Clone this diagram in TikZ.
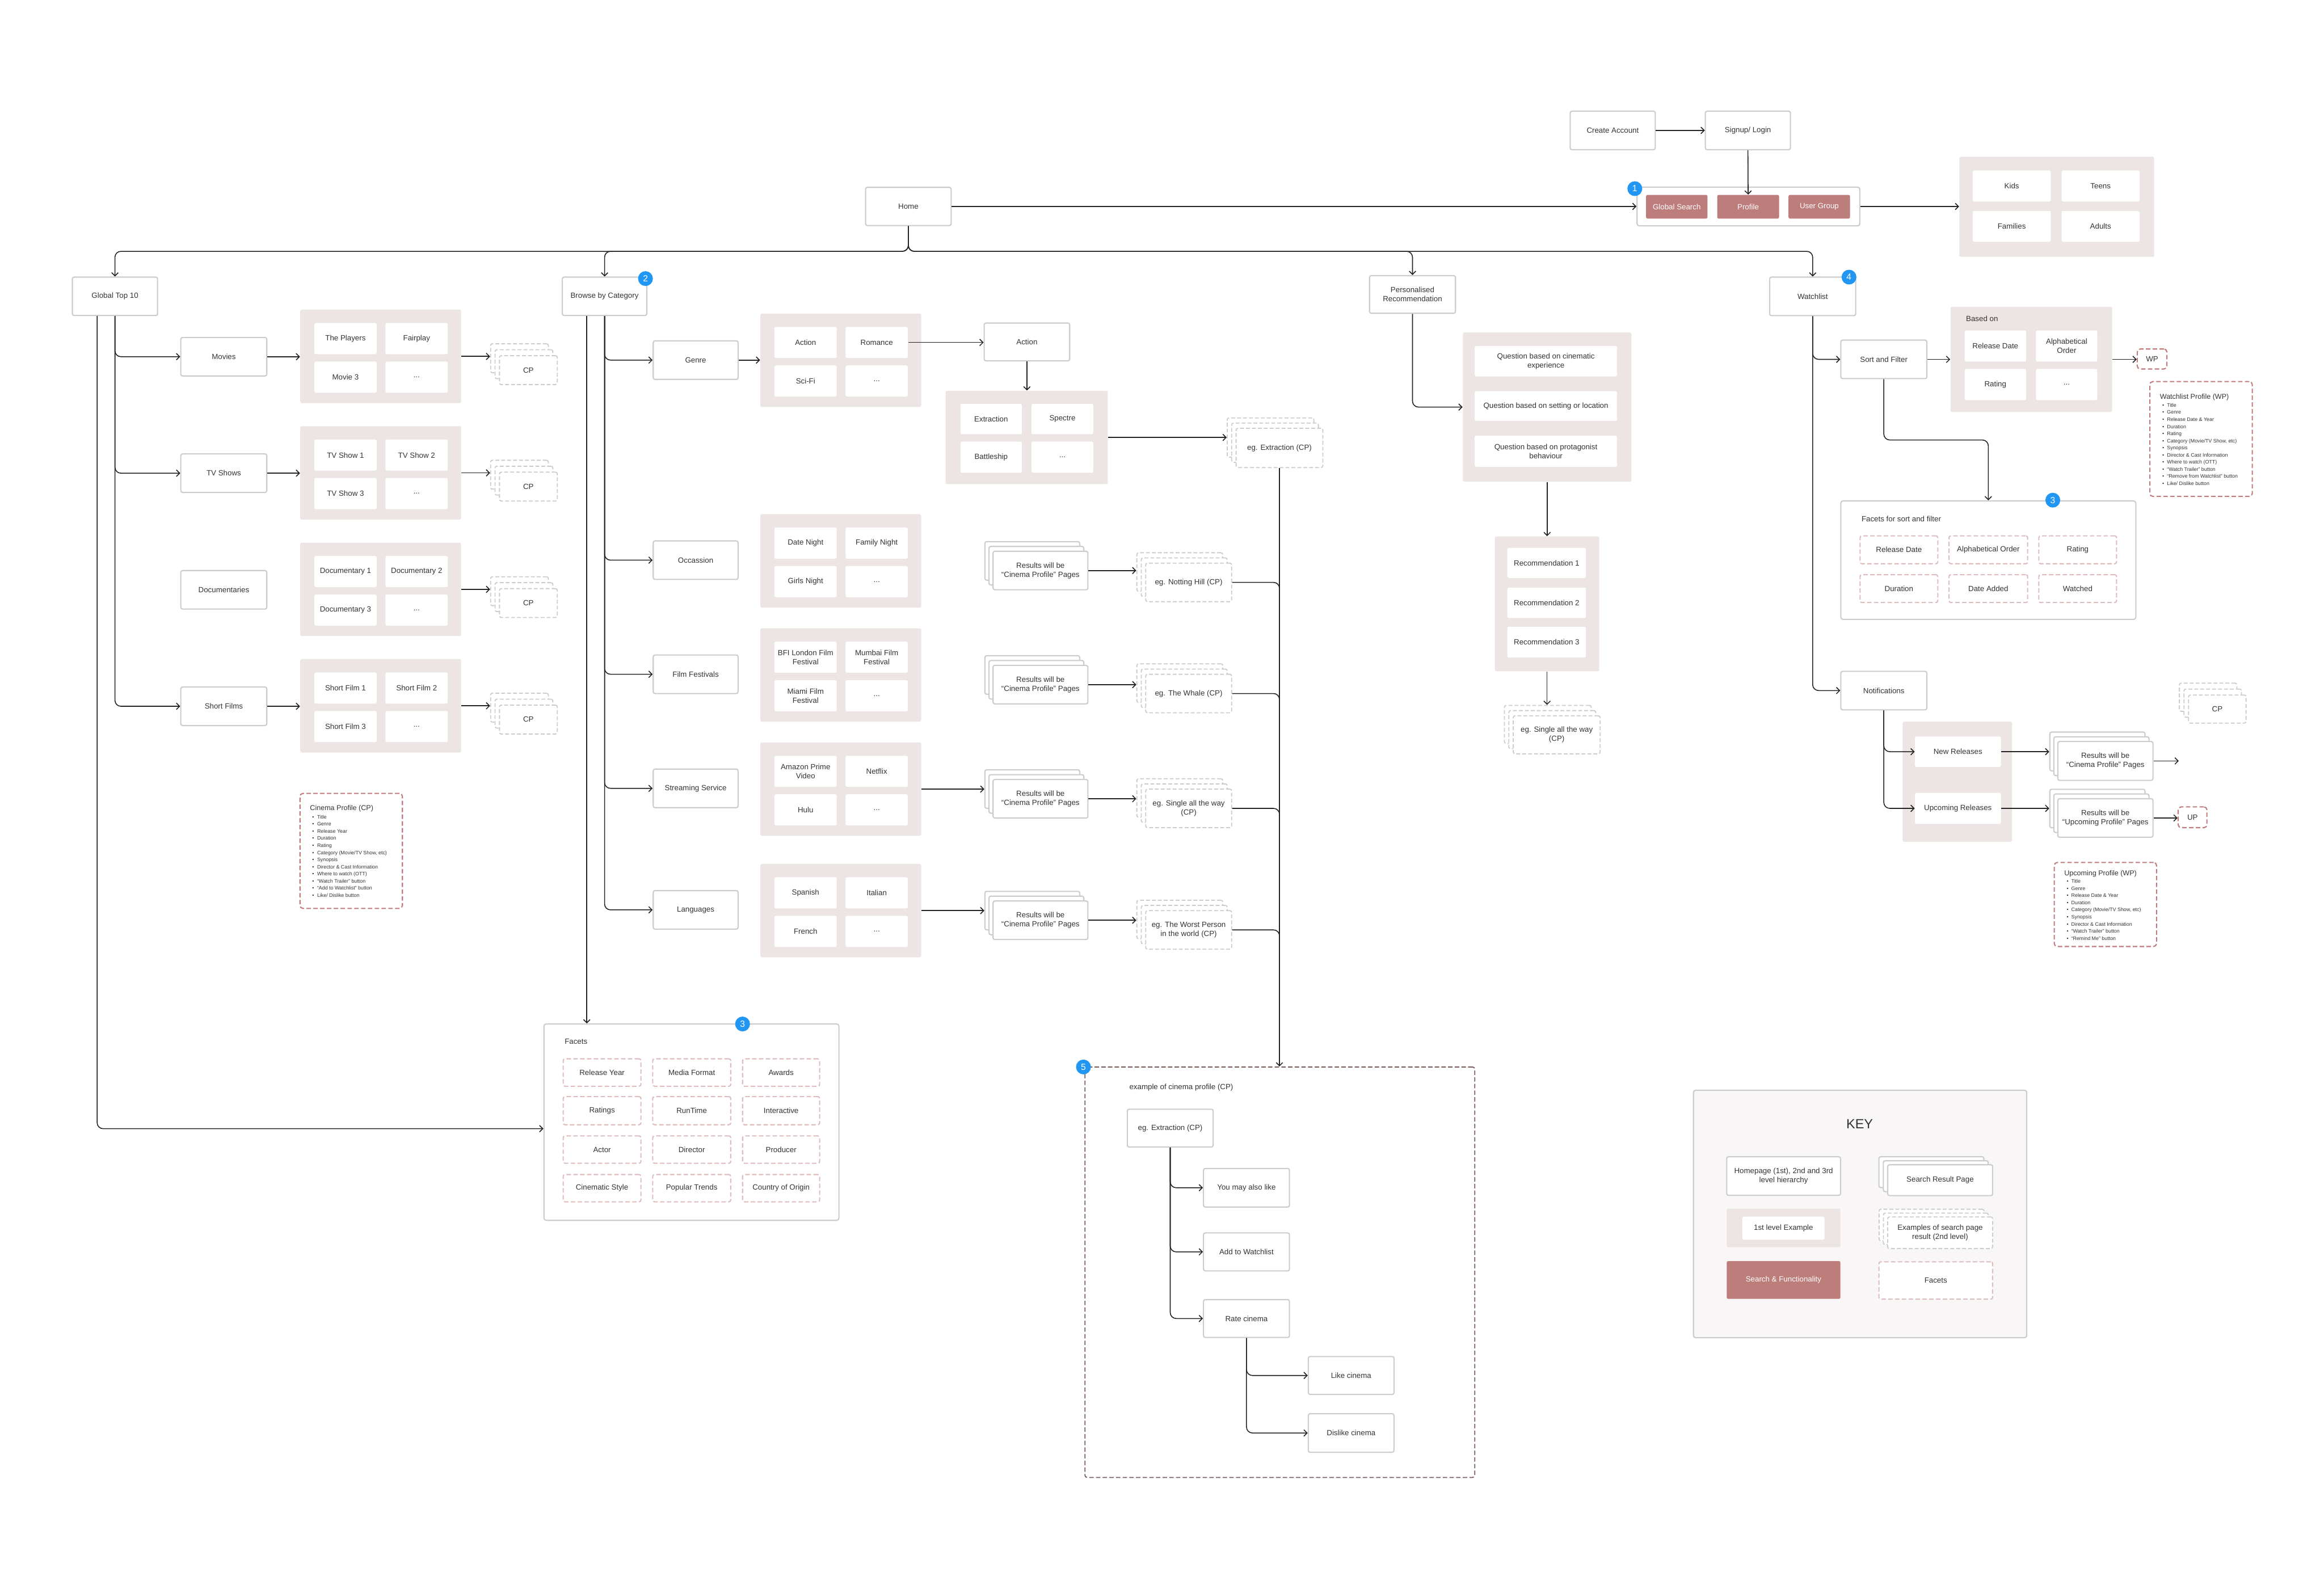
\documentclass[tikz,border=0pt]{standalone}
\usepackage{fontspec}
\setmainfont{Liberation Sans}
\usetikzlibrary{arrows.meta,calc}
\definecolor{boxline}{HTML}{CCCCCC}
\definecolor{pinkbg}{HTML}{EDE4E4}
\definecolor{rosefill}{HTML}{BD7D7B}
\definecolor{roseline}{HTML}{C07C7C}
\definecolor{facetline}{HTML}{DDBDBD}
\definecolor{txt}{HTML}{333333}
\definecolor{badgeblue}{HTML}{2196F3}
\definecolor{exline}{HTML}{7A5E5E}
\definecolor{keybg}{HTML}{F8F6F6}
\definecolor{connc}{HTML}{222222}

\newcommand\bx[7]{\node[#1, minimum width={((#5)-(#3))*1pt}, minimum height={((#6)-(#4))*1pt}] (#2) at ({((#3)+(#5))/2},{((#4)+(#6))/2}) {#7};}
\newcommand\stk[9]{%
  \node[#1, minimum width={((#5)-(#3))*1pt}, minimum height={((#6)-(#4))*1pt}] (#2-b) at ({((#3)+(#5))/2-2*(#7)},{((#4)+(#6))/2-2*(#8)}) {};
  \node[#1, minimum width={((#5)-(#3))*1pt}, minimum height={((#6)-(#4))*1pt}] (#2-m) at ({((#3)+(#5))/2-(#7)},{((#4)+(#6))/2-(#8)}) {};
  \node[#1, minimum width={((#5)-(#3))*1pt}, minimum height={((#6)-(#4))*1pt}] (#2) at ({((#3)+(#5))/2},{((#4)+(#6))/2}) {#9};}
\newcommand\gfour[7]{%
  \bx{bgp}{#1}{#2}{#3}{#2+108.5}{#3+63}{}
  \bx{cell}{#1-1}{#2+9.5}{#3+9}{#2+51.5}{#3+30}{#4}
  \bx{cell}{#1-2}{#2+57.5}{#3+9}{#2+99.5}{#3+30}{#5}
  \bx{cell}{#1-3}{#2+9.5}{#3+35}{#2+51.5}{#3+56}{#6}
  \bx{cell}{#1-4}{#2+57.5}{#3+35}{#2+99.5}{#3+56}{#7}}
\newcommand\plist[5]{%
  \foreach \t [count=\i from 0] in {#5} {%
    \node[plitem, anchor=base] (#4-b\i) at (#1,{#3+\i*4.81}) {\textbullet};
    \node[plitem, anchor=base west] (#4-\i) at (#2,{#3+\i*4.81}) {\t};
  }}

\begin{document}
\begin{tikzpicture}[x=1pt,y=-1pt,
  every node/.style={font=\fontsize{5.1}{6.2}\selectfont, text=txt, inner sep=0.8pt},
  pg/.style={draw=boxline, line width=0.8pt, fill=white, rounded corners=1.2pt, align=center},
  plainbox/.style={draw=boxline, line width=0.8pt, fill=white, rounded corners=1.5pt},
  keybox/.style={draw=boxline, line width=0.8pt, fill=keybg, rounded corners=1.5pt},
  cell/.style={fill=white, rounded corners=1pt, align=center},
  bgp/.style={fill=pinkbg, rounded corners=1pt},
  func/.style={fill=rosefill, rounded corners=1pt, text=white, align=center},
  gstack/.style={draw=boxline, dash pattern=on 2.6pt off 1.4pt, line width=0.7pt, fill=white, rounded corners=1.2pt, align=center},
  facet/.style={draw=facetline, dash pattern=on 3pt off 1.6pt, line width=0.8pt, fill=white, rounded corners=1.2pt, align=center},
  rosebox/.style={draw=roseline, dash pattern=on 3pt off 1.6pt, line width=0.8pt, fill=white, rounded corners=2pt, align=center},
  exbox/.style={draw=exline, dash pattern=on 3pt off 1.5pt, line width=0.7pt, rounded corners=1.5pt},
  badge/.style={circle, fill=badgeblue, text=white, minimum size=10pt, inner sep=0pt, font=\fontsize{6}{6}\selectfont},
  plitem/.style={font=\fontsize{3.4}{4}\selectfont, inner sep=0pt},
  ptitle/.style={font=\fontsize{4.8}{5.5}\selectfont, inner sep=0pt},
  arr/.style={draw=connc, line width=0.6pt, rounded corners=4pt, -{Straight Barb[length=2.2pt,width=4.4pt]}},
  ln/.style={draw=connc, line width=0.6pt, rounded corners=4pt}
]
\useasboundingbox (0,0) rectangle (1568,1066.6);
\fill[white] (0,0) rectangle (1568,1066.6);

% ---------- top ----------
\bx{pg}{ca}{1059.4}{75}{1116.8}{101}{Create Account}
\bx{pg}{sl}{1150.6}{75}{1208}{101}{Signup/ Login}
\bx{pg}{home}{584}{126.4}{641.7}{152.2}{Home}
\bx{plainbox}{grp}{1104.5}{126.3}{1254.8}{152.4}{}
\bx{func}{gs}{1110.6}{131.5}{1152}{147.5}{Global Search}
\bx{func}{prof}{1158.6}{131.5}{1200.3}{147.5}{Profile}
\bx{func}{ug}{1206.7}{131.5}{1248.2}{147.5}{User Group}
\node[badge] (b1) at (1103,127.3) {1};
\bx{bgp}{ugrid}{1322}{105.8}{1453.4}{173.3}{}
\bx{cell}{kids}{1331}{115}{1383.6}{136}{Kids}
\bx{cell}{teens}{1391}{115}{1443.5}{136}{Teens}
\bx{cell}{fam}{1331}{142.4}{1383.6}{163.2}{Families}
\bx{cell}{adults}{1391}{142.4}{1443.5}{163.2}{Adults}

\draw[arr] (ca) -- (sl);
\draw[arr] (sl.south) -- (prof.north);
\draw[arr] (home.east) -- (home.east -| grp.west);
\draw[arr] (grp.east) -- (grp.east -| ugrid.west);

% ---------- level 2 ----------
\bx{pg}{gt}{48.8}{187}{106.3}{212.9}{Global Top 10}
\bx{pg}{bbc}{379.4}{187}{436.4}{212.9}{Browse by Category}
\bx{pg}{pr}{924}{186}{982}{211.4}{Personalised\\Recommendation}
\bx{pg}{wl}{1194}{187}{1252}{213}{Watchlist}
\node[badge] (b2) at (435.5,188) {2};
\node[badge] (b4) at (1247.5,187) {4};
\draw[arr] (home.south) -- ++(0,17) -| (gt.north);
\draw[arr] (home.south) -- ++(0,17) -| (bbc.north);
\draw[arr] (home.south) -- ++(0,17) -| (pr.north);
\draw[arr] (home.south) -- ++(0,17) -| (wl.north);

% ---------- Global Top 10 column ----------
\bx{pg}{mov}{122}{227.7}{180}{253.7}{Movies}
\bx{pg}{tv}{122}{306.3}{180}{332.3}{TV Shows}
\bx{pg}{doc}{122}{385}{180}{411}{Documentaries}
\bx{pg}{shf}{122}{463.6}{180}{489.6}{Short Films}
\gfour{gm}{202.6}{209}{The Players}{Fairplay}{Movie 3}{...}
\gfour{gtv}{202.6}{287.6}{TV Show 1}{TV Show 2}{TV Show 3}{...}
\gfour{gdoc}{202.6}{366.2}{Documentary 1}{Documentary 2}{Documentary 3}{...}
\gfour{gsh}{202.6}{444.8}{Short Film 1}{Short Film 2}{Short Film 3}{...}
\stk{gstack}{cpm}{337}{240}{376}{259.5}{3}{4}{CP}
\stk{gstack}{cptv}{337}{318.6}{376}{338.1}{3}{4}{CP}
\stk{gstack}{cpdoc}{337}{397.2}{376}{416.7}{3}{4}{CP}
\stk{gstack}{cpsh}{337}{475.8}{376}{495.3}{3}{4}{CP}
\draw[arr] (gt.south) |- (mov.west);
\draw[arr] (gt.south) |- (tv.west);
\draw[arr] (gt.south) |- (shf.west);
\draw[arr] (mov.east) -- (mov.east -| gm.west);
\draw[arr] (tv.east) -- (tv.east -| gtv.west);
\draw[arr] (shf.east) -- (shf.east -| gsh.west);
\draw[arr] (gm.east) -- (gm.east -| cpm-b.west);
\draw[arr] (gtv.east) -- (gtv.east -| cptv-b.west);
\draw[arr] (gdoc.east) -- (gdoc.east -| cpdoc-b.west);
\draw[arr] (gsh.east) -- (gsh.east -| cpsh-b.west);

\bx{rosebox}{cpbox}{202.4}{535.4}{271.5}{613}{}
\node[ptitle, anchor=west] (cpt) at (209,545.7) {Cinema Profile (CP)};
\plist{211.3}{213.8}{552.5}{cpi}{Title, Genre, Release Year, Duration, Rating, {Category (Movie/TV Show, etc)}, Synopsis, {Director \& Cast Information}, {Where to watch (OTT)}, {“Watch Trailer” button}, {“Add to Watchlist” button}, {Like/ Dislike button}}

% ---------- Browse by Category column ----------
\bx{pg}{genre}{440.7}{230}{498}{256}{Genre}
\bx{pg}{occ}{440.7}{365}{498}{391}{Occassion}
\bx{pg}{ff}{440.7}{442}{498}{468}{Film Festivals}
\bx{pg}{ss}{440.7}{519}{498}{545}{Streaming Service}
\bx{pg}{lang}{440.7}{601}{498}{627}{Languages}
\gfour{gg}{513}{211.6}{Action}{Romance}{Sci-Fi}{...}
\gfour{go}{513}{347}{Date Night}{Family Night}{Girls Night}{...}
\gfour{gf}{513}{424}{BFI London Film\\Festival}{Mumbai Film\\Festival}{Miami Film\\Festival}{...}
\gfour{gst}{513}{501}{Amazon Prime\\Video}{Netflix}{Hulu}{...}
\gfour{gl}{513}{583}{Spanish}{Italian}{French}{...}
\draw[arr] (bbc.south) |- (genre.west);
\draw[arr] (bbc.south) |- (occ.west);
\draw[arr] (bbc.south) |- (ff.west);
\draw[arr] (bbc.south) |- (ss.west);
\draw[arr] (bbc.south) |- (lang.west);
\draw[arr] (genre.east) -- (genre.east -| gg.west);

\bx{pg}{act}{664}{218}{721.7}{243.5}{Action}
\bx{bgp}{gx}{638}{263.7}{747.4}{326.7}{}
\bx{cell}{gx-1}{648}{272.5}{689.4}{293}{Extraction}
\bx{cell}{gx-2}{696}{272.5}{737.6}{293}{Spectre}
\bx{cell}{gx-3}{648}{298}{689.4}{319}{Battleship}
\bx{cell}{gx-4}{696}{298}{737.6}{319}{...}
\draw[arr] (gg-2.east) -- (gg-2.east -| act.west);
\draw[arr] (act.south) -- (act.south |- gx.north);
\stk{gstack}{egx}{834}{289}{892.5}{315.5}{3}{3.5}{eg. Extraction (CP)}
\draw[arr] (gx.east) -- (gx.east -| egx-b.west);

\stk{pg}{r1}{670}{372}{734}{398}{2.75}{3.25}{Results will be\\“Cinema Profile” Pages}
\stk{pg}{r2}{670}{449}{734}{475}{2.75}{3.25}{Results will be\\“Cinema Profile” Pages}
\stk{pg}{r3}{670}{526}{734}{552}{2.75}{3.25}{Results will be\\“Cinema Profile” Pages}
\stk{pg}{r4}{670}{608}{734}{634}{2.75}{3.25}{Results will be\\“Cinema Profile” Pages}
\stk{gstack}{e1}{773}{380}{831}{406}{3}{3.5}{eg. Notting Hill (CP)}
\stk{gstack}{e2}{773}{455}{831}{481}{3}{3.5}{eg. The Whale (CP)}
\stk{gstack}{e3}{773}{532.5}{831}{558.5}{3}{3.5}{eg. Single all the way\\(CP)}
\stk{gstack}{e4}{773}{614.5}{831}{640.5}{3}{3.5}{eg. The Worst Person\\in the world (CP)}
\draw[arr] (gst.east) -- (gst.east -| r3-b.west);
\draw[arr] (gl.east) -- (gl.east -| r4-b.west);
\draw[arr] (r1.east) -- (r1.east -| e1-b.west);
\draw[arr] (r2.east) -- (r2.east -| e2-b.west);
\draw[arr] (r3.east) -- (r3.east -| e3-b.west);
\draw[arr] (r4.east) -- (r4.east -| e4-b.west);
\draw[ln] (e1.east) -| ($(egx.south |- e1.east)+(0,8)$);
\draw[ln] (e2.east) -| ($(egx.south |- e2.east)+(0,8)$);
\draw[ln] (e3.east) -| ($(egx.south |- e3.east)+(0,8)$);
\draw[ln] (e4.east) -| ($(egx.south |- e4.east)+(0,8)$);

% ---------- example of cinema profile ----------
\bx{exbox}{ex}{732}{720}{995}{997}{}
\draw[arr] (egx.south) -- (egx.south |- ex.north);
\node[badge] (b5) at (731,720) {5};
\node[anchor=west] (exl) at (761,734) {example of cinema profile (CP)};
\bx{pg}{exe}{760.6}{748.5}{818.5}{774}{eg. Extraction (CP)}
\bx{pg}{may}{812}{788.5}{870}{814.5}{You may also like}
\bx{pg}{addw}{812}{832}{870}{857.6}{Add to Watchlist}
\bx{pg}{rate}{812}{877}{870}{902.5}{Rate cinema}
\bx{pg}{like}{882.7}{915.4}{940.5}{941}{Like cinema}
\bx{pg}{dislike}{882.7}{954}{940.5}{980}{Dislike cinema}
\draw[arr] (exe.south) |- (may.west);
\draw[arr] (exe.south) |- (addw.west);
\draw[arr] (exe.south) |- (rate.west);
\draw[arr] (rate.south) |- (like.west);
\draw[arr] (rate.south) |- (dislike.west);

% ---------- Facets ----------
\bx{plainbox}{fac}{367}{691}{566}{823.5}{}
\draw[arr] ([xshift=-12pt]bbc.south) -- ([xshift=-12pt]bbc.south |- fac.north);
\draw[arr] ([xshift=-12pt]gt.south) |- ([yshift=-4.4pt]fac.west);
\node[badge] (b3a) at (501,691) {3};
\node[anchor=west] (facl) at (380,703) {Facets};
\bx{facet}{f1}{380}{714.5}{432.4}{733}{Release Year}
\bx{facet}{f2}{440.4}{714.5}{493}{733}{Media Format}
\bx{facet}{f3}{501}{714.5}{553}{733}{Awards}
\bx{facet}{f4}{380}{740}{432.4}{759}{Ratings}
\bx{facet}{f5}{440.4}{740}{493}{759}{RunTime}
\bx{facet}{f6}{501}{740}{553}{759}{Interactive}
\bx{facet}{f7}{380}{766.5}{432.4}{785}{Actor}
\bx{facet}{f8}{440.4}{766.5}{493}{785}{Director}
\bx{facet}{f9}{501}{766.5}{553}{785}{Producer}
\bx{facet}{f10}{380}{792.6}{432.4}{811}{Cinematic Style}
\bx{facet}{f11}{440.4}{792.6}{493}{811}{Popular Trends}
\bx{facet}{f12}{501}{792.6}{553}{811}{Country of Origin}

% ---------- Personalised Recommendation ----------
\bx{bgp}{qg}{987}{224.4}{1100.7}{325}{}
\bx{cell}{q1}{995}{233.5}{1091}{254}{Question based on cinematic\\experience}
\bx{cell}{q2}{995}{264}{1091}{284}{Question based on setting or location}
\bx{cell}{q3}{995}{294}{1091}{315}{Question based on protagonist\\behaviour}
\draw[arr] (pr.south) |- (qg.west);
\bx{bgp}{rg}{1008.6}{362}{1079}{453}{}
\bx{cell}{rc1}{1017}{369.7}{1070}{390}{Recommendation 1}
\bx{cell}{rc2}{1017}{396.6}{1070}{417}{Recommendation 2}
\bx{cell}{rc3}{1017}{423}{1070}{443.7}{Recommendation 3}
\draw[arr] (qg.south) -- (qg.south |- rg.north);
\stk{gstack}{sng}{1021}{483}{1079.6}{508.7}{3}{3.5}{eg. Single all the way\\(CP)}
\draw[arr] (rg.south) -- (rg.south |- sng-b.north);

% ---------- Watchlist ----------
\bx{pg}{srt}{1242}{229.5}{1300}{255.5}{Sort and Filter}
\draw[arr] (wl.south) |- (srt.west);
\bx{bgp}{bo}{1316}{207}{1425}{278}{}
\node[anchor=west] (bol) at (1325.5,215) {Based on};
\bx{cell}{bo1}{1325.5}{223}{1367}{244}{Release Date}
\bx{cell}{bo2}{1373.7}{223}{1415}{244}{Alphabetical\\Order}
\bx{cell}{bo3}{1325.5}{249}{1367}{270}{Rating}
\bx{cell}{bo4}{1373.7}{249}{1415}{270}{...}
\draw[arr] (srt.east) -- (srt.east -| bo.west);
\bx{rosebox}{wp}{1442}{235.5}{1462}{249}{WP}
\draw[arr] (bo.east) -- (bo.east -| wp.west);
\bx{rosebox}{wpbox}{1450.5}{257.5}{1519.6}{335}{}
\node[ptitle, anchor=west] (wpt) at (1457.1,267.9) {Watchlist Profile (WP)};
\plist{1459.5}{1461.9}{274.6}{wpi}{Title, Genre, {Release Date \& Year}, Duration, Rating, {Category (Movie/TV Show, etc)}, Synopsis, {Director \& Cast Information}, {Where to watch (OTT)}, {“Watch Trailer” button}, {“Remove from Watchlist” button}, {Like/ Dislike button}}

\bx{plainbox}{fsf}{1242}{338}{1441}{418}{}
\draw[arr] (srt.south) -- ++(0,41) -| (fsf.north);
\node[badge] (b3b) at (1385,337.5) {3};
\node[anchor=west] (fsfl) at (1255,350) {Facets for sort and filter};
\bx{facet}{s1}{1255}{361.6}{1307.4}{380.4}{Release Date}
\bx{facet}{s2}{1315}{361.6}{1368}{380.4}{Alphabetical Order}
\bx{facet}{s3}{1375.6}{361.6}{1428}{380.4}{Rating}
\bx{facet}{s4}{1255}{387.8}{1307.4}{406.6}{Duration}
\bx{facet}{s5}{1315}{387.8}{1368}{406.6}{Date Added}
\bx{facet}{s6}{1375.6}{387.8}{1428}{406.6}{Watched}

\bx{pg}{notif}{1242}{453}{1300}{479}{Notifications}
\draw[arr] (wl.south) |- (notif.west);
\bx{bgp}{ng}{1283.7}{487}{1357.5}{568}{}
\bx{cell}{nr}{1292}{497}{1350}{517.5}{New Releases}
\bx{cell}{ur}{1292}{535}{1350}{556}{Upcoming Releases}
\draw[arr] (notif.south) |- (nr.west);
\draw[arr] (notif.south) |- (ur.west);
\stk{pg}{nres}{1388.4}{500.4}{1452.6}{526.6}{2.7}{3.2}{Results will be\\“Cinema Profile” Pages}
\stk{pg}{ures}{1388.4}{539}{1452.6}{565}{2.7}{3.2}{Results will be\\“Upcoming Profile” Pages}
\draw[arr] (nr.east) -- (nr.east -| nres-b.west);
\draw[arr] (ur.east) -- (ur.east -| ures-b.west);
\coordinate (nend) at (1470,513.5);
\draw[arr] (nres.east) -- (nend);
\bx{rosebox}{up}{1469.6}{544.5}{1489}{558.5}{UP}
\draw[arr] (ures.east) -- (ures.east -| up.west);
\stk{gstack}{cpx}{1476.6}{469}{1515.4}{488}{3.1}{4}{CP}
\bx{rosebox}{upbox}{1386}{582}{1455}{638.7}{}
\node[ptitle, anchor=west] (upt) at (1392.6,589.5) {Upcoming Profile (WP)};
\plist{1395}{1397.3}{595.9}{upi}{Title, Genre, {Release Date \& Year}, Duration, {Category (Movie/TV Show, etc)}, Synopsis, {Director \& Cast Information}, {“Watch Trailer” button}, {“Remind Me” button}}

% ---------- KEY ----------
\bx{keybox}{key}{1142.6}{735.7}{1367.4}{902.7}{}
\node[font=\fontsize{9}{10}\selectfont] (keyt) at (1254.7,758.6) {KEY};
\bx{pg}{k1}{1165}{780.6}{1241.8}{806.6}{Homepage (1st), 2nd and 3rd\\level hierarchy}
\stk{pg}{k2}{1273.6}{786}{1344.4}{806.8}{2.95}{2.7}{Search Result Page}
\bx{bgp}{k3}{1165}{815.7}{1241.7}{841.6}{}
\bx{cell}{k3i}{1175.6}{821}{1231}{836.6}{1st level Example}
\stk{gstack}{k4}{1273.6}{821.2}{1344.4}{842.5}{2.9}{2.6}{Examples of search page\\result (2nd level)}
\bx{func}{k5}{1165}{851}{1241.7}{876.5}{Search \& Functionality}
\bx{facet}{k6}{1267.7}{851.5}{1344.4}{876.7}{Facets}
\end{tikzpicture}
\end{document}
